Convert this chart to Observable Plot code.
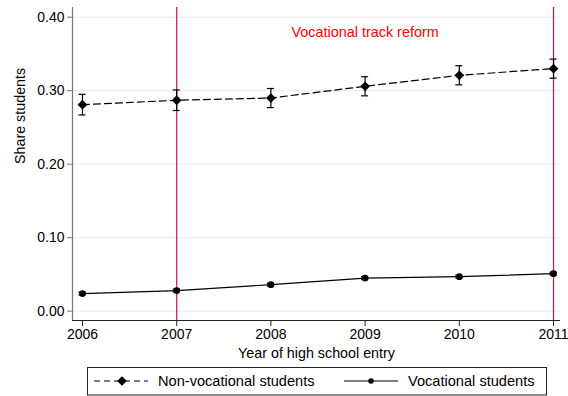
<!DOCTYPE html>
<html>
<head>
<meta charset="utf-8">
<script src="https://cdn.jsdelivr.net/npm/d3@7"></script>
<script src="https://cdn.jsdelivr.net/npm/@observablehq/plot@0.6"></script>
<style>
  body { margin: 0; background: #fff; font-family: "Liberation Sans", Arial, sans-serif; }
  #chart { width: 568px; }
</style>
</head>
<body>
<div id="chart"></div>
<script>
const years = [2006, 2007, 2008, 2009, 2010, 2011];
const nonVocational = [0.281, 0.287, 0.290, 0.306, 0.321, 0.330];
const nonVocationalSE = [0.014, 0.014, 0.013, 0.013, 0.013, 0.013];
const vocational = [0.024, 0.028, 0.036, 0.045, 0.047, 0.051];
const vocationalSE = [0.002, 0.002, 0.002, 0.002, 0.002, 0.002];
const reformYears = [2007, 2011];
const annotation = [{year: 2009, value: 0.38, text: "Vocational track reform"}];
const yTicks = [0, 0.1, 0.2, 0.3, 0.4];
const seriesNames = ["Non-vocational students", "Vocational students"];
const xLabel = "Year of high school entry";
const yLabel = "Share students";

const nv = years.map((y, i) => ({year: y, value: nonVocational[i], lo: nonVocational[i] - nonVocationalSE[i], hi: nonVocational[i] + nonVocationalSE[i]}));
const vo = years.map((y, i) => ({year: y, value: vocational[i], lo: vocational[i] - vocationalSE[i], hi: vocational[i] + vocationalSE[i]}));

const xDomain = [2005.894, 2011.074];
const yDomain = [-0.0127, 0.4132];
const font = '"Liberation Sans", Arial, sans-serif';

const plot = Plot.plot({
  width: 568,
  height: 362,
  marginLeft: 72,
  marginRight: 8,
  marginTop: 7,
  marginBottom: 42,
  style: {fontFamily: font, fontSize: "14px", color: "#000", background: "#fff"},
  x: {domain: xDomain, label: null},
  y: {domain: yDomain, label: null},
  marks: [
    Plot.gridY(yTicks, {stroke: "#e2eced", strokeOpacity: 1}),
    Plot.ruleX(reformYears, {stroke: "#cc1744", strokeWidth: 1.2}),
    Plot.ruleX([xDomain[0]], {stroke: "#777", strokeWidth: 1.2}),
    Plot.ruleY([yDomain[0]], {stroke: "#222", strokeWidth: 1.2}),
    Plot.axisY(yTicks, {tickFormat: d3.format(".2f"), tickSize: 5, tickPadding: 3, stroke: "#777", fontSize: 14, label: null}),
    Plot.axisX(years, {tickFormat: d => String(d), tickSize: 6, tickPadding: 3, stroke: "#222", fontSize: 14, label: null}),
    Plot.text([yLabel], {frameAnchor: "left", dx: -52, rotate: -90, fontSize: 14.3, fill: "#000"}),
    Plot.text([xLabel], {frameAnchor: "bottom", lineAnchor: "middle", dy: 33, fontSize: 14.3, fill: "#000"}),
    Plot.text(annotation, {x: "year", y: "value", text: "text", fill: "#ff0000", fontSize: 14.4}),
    Plot.line(nv, {x: "year", y: "value", stroke: "#000", strokeWidth: 1.2, strokeDasharray: "7,4"}),
    Plot.line(vo, {x: "year", y: "value", stroke: "#000", strokeWidth: 1.2}),
    Plot.ruleX(nv, {x: "year", y1: "lo", y2: "hi", stroke: "#000", strokeWidth: 1.2}),
    Plot.ruleY(nv, {x1: "year", x2: "year", y: "lo", insetLeft: -3.5, insetRight: -3.5, stroke: "#000", strokeWidth: 1.2}),
    Plot.ruleY(nv, {x1: "year", x2: "year", y: "hi", insetLeft: -3.5, insetRight: -3.5, stroke: "#000", strokeWidth: 1.2}),
    Plot.ruleX(vo, {x: "year", y1: "lo", y2: "hi", stroke: "#000", strokeWidth: 1.2}),
    Plot.ruleY(vo, {x1: "year", x2: "year", y: "lo", insetLeft: -3.5, insetRight: -3.5, stroke: "#000", strokeWidth: 1.2}),
    Plot.ruleY(vo, {x1: "year", x2: "year", y: "hi", insetLeft: -3.5, insetRight: -3.5, stroke: "#000", strokeWidth: 1.2}),
    Plot.dot(nv, {x: "year", y: "value", symbol: "diamond2", r: 4.4, fill: "#000", stroke: "none"}),
    Plot.dot(vo, {x: "year", y: "value", symbol: "circle", r: 3.4, fill: "#000", stroke: "none"})
  ]
});
document.getElementById("chart").appendChild(plot);

// Legend
const legend = d3.select("#chart").append("svg")
  .attr("width", 568).attr("height", 34)
  .style("display", "block")
  .style("font-family", font);
legend.append("rect").attr("x", 87.5).attr("y", 5.5).attr("width", 459).attr("height", 27.5)
  .attr("fill", "#fff").attr("stroke", "#222").attr("stroke-width", 1);
const items = [
  {name: seriesNames[0], x0: 94, x1: 148, xm: 122, dash: "6,4", sym: d3.symbolDiamond2, size: 60, tx: 158},
  {name: seriesNames[1], x0: 344, x1: 398, xm: 371, dash: null, sym: d3.symbolCircle, size: 24, tx: 408}
];
items.forEach(it => {
  const g = legend.append("g");
  g.append("line").attr("x1", it.x0).attr("x2", it.x1).attr("y1", 19).attr("y2", 19)
    .attr("stroke", "#000").attr("stroke-width", 1.2)
    .attr("stroke-dasharray", it.dash);
  g.append("path").attr("d", d3.symbol(it.sym, it.size)()).attr("transform", `translate(${it.xm},19)`).attr("fill", "#000");
  g.append("text").attr("x", it.tx).attr("y", 19).attr("dy", "0.35em").attr("font-size", 14.6).text(it.name);
});
</script>
</body>
</html>
